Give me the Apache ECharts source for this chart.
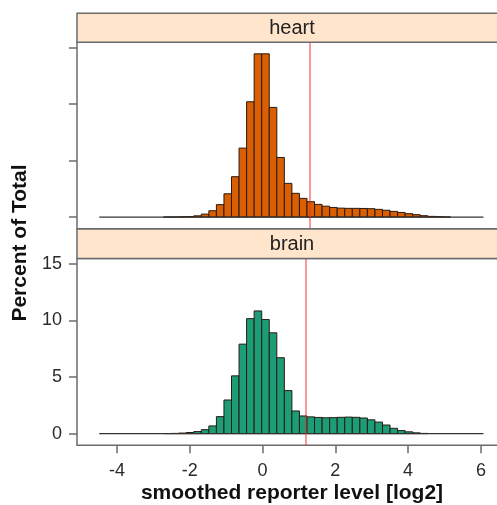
<!DOCTYPE html>
<html>
<head>
<meta charset="utf-8">
<script src="https://cdn.jsdelivr.net/npm/echarts@6/dist/echarts.min.js"></script>
<style>html,body{margin:0;padding:0;background:#fff}#c{width:497px;height:505px}</style>
</head>
<body>
<div id="c"></div>
<script>
// ---- data ----
var panels = ['heart', 'brain'];
var binStart = -2.718;      // left edge of first listed bin
var binWidth = 0.2074;
var heartPct = [0.005,0.01,0.025,0.05,0.11,0.26,0.56,1.1,2.06,3.57,6.1,10.2,14.44,
  14.44,9.7,5.27,2.98,2.1,1.65,1.36,1.12,0.96,0.85,0.79,0.77,0.77,0.76,0.74,0.68,0.6,0.5,0.41,0.3,0.21,0.12,0.06,0.03,0.01];
var brainPct = [0.01,0.02,0.05,0.1,0.18,0.35,0.68,1.5,2.97,5.1,7.9,10.15,10.83,
  10.07,8.9,6.7,3.8,2.0,1.56,1.48,1.43,1.4,1.41,1.44,1.46,1.44,1.38,1.22,1.02,0.76,0.47,0.27,0.16,0.07,0.02,0,0,0];
var dataRange = [-4.485, 6.07];
var thresholds = [1.286, 1.19];
var xTicks = [-4, -2, 0, 2, 4, 6];
var yTicks = [0, 5, 10, 15];
var xLim = [-5.096, 6.717];
var yLim = [-1.03, 15.46];
var colors = ['#d95f02', '#1b9e77'];

function bins(vals) {
  return vals.map(function (v, i) {
    var x0 = binStart + i * binWidth;
    return [x0, x0 + binWidth, v];
  });
}

var FONT = 'Liberation Sans, Arial, Helvetica, sans-serif';
var chart = echarts.init(document.getElementById('c'), null, {renderer: 'canvas'});

var grids = [
  {left: 77, top: 42.3, width: 430, height: 186.4, outerBoundsMode: 'none', containLabel: false,
   show: true, borderColor: '#6b6b6b', borderWidth: 1.5, backgroundColor: '#fff'},
  {left: 77, top: 258.5, width: 430, height: 186.8, outerBoundsMode: 'none', containLabel: false,
   show: true, borderColor: '#6b6b6b', borderWidth: 1.5, backgroundColor: '#fff'}
];

var xAxes = [0, 1].map(function (i) {
  return {
    type: 'value', gridIndex: i, min: xLim[0], max: xLim[1], position: 'bottom',
    splitLine: {show: false}, axisLine: {show: false, onZero: false},
    axisTick: {show: i === 1, customValues: xTicks, length: 8, lineStyle: {color: '#6b6b6b', width: 1.5}},
    axisLabel: {show: i === 1, customValues: xTicks, margin: 17, fontSize: 18, color: '#2a2a2a', fontFamily: FONT},
    name: i === 1 ? 'smoothed reporter level [log2]' : '',
    nameLocation: 'middle', nameGap: 37,
    nameTextStyle: {fontSize: 21, fontWeight: 'bold', color: '#111', fontFamily: FONT}
  };
});

var yAxes = [0, 1].map(function (i) {
  return {
    type: 'value', gridIndex: i, min: yLim[0], max: yLim[1], position: 'left',
    splitLine: {show: false}, axisLine: {show: false, onZero: false},
    axisTick: {show: true, customValues: yTicks, length: 8, lineStyle: {color: '#6b6b6b', width: 1.5}},
    axisLabel: {show: i === 1, customValues: yTicks, margin: 15, fontSize: 18, color: '#2a2a2a', fontFamily: FONT}
  };
});

var series = [];
[heartPct, brainPct].forEach(function (vals, i) {
  var color = colors[i];
  series.push({
    type: 'custom', xAxisIndex: i, yAxisIndex: i,
    data: bins(vals).filter(function (d) { return d[2] > 0; }),
    renderItem: function (params, api) {
      var p0 = api.coord([api.value(0), api.value(2)]);
      var p1 = api.coord([api.value(1), 0]);
      return {
        type: 'rect',
        shape: {x: p0[0], y: p0[1], width: p1[0] - p0[0], height: p1[1] - p0[1]},
        style: {fill: color, stroke: '#2a1a10', lineWidth: 1}
      };
    },
    z: 2
  });
  series.push({
    type: 'line', xAxisIndex: i, yAxisIndex: i,
    data: [[dataRange[0], 0], [dataRange[1], 0]],
    symbol: 'none', lineStyle: {color: '#333', width: 1.2}, z: 3,
    markLine: {
      silent: true, symbol: 'none', label: {show: false},
      lineStyle: {color: 'rgba(235,45,45,0.6)', width: 1.6, type: 'solid'},
      data: [{xAxis: thresholds[i]}]
    }
  });
});

var graphics = [];
var stripTops = [13.3, 229];
var stripH = [29, 29.4];
panels.forEach(function (name, i) {
  graphics.push({
    type: 'rect', shape: {x: 77, y: stripTops[i], width: 430, height: stripH[i]},
    style: {fill: '#ffe5cc', stroke: '#6b6b6b', lineWidth: 1.5}, z: 10
  });
  graphics.push({
    type: 'text', x: 292, y: stripTops[i] + stripH[i] / 2 + 0.5,
    style: {text: name, fontSize: 20, fontFamily: FONT, fill: '#222', align: 'center', verticalAlign: 'middle'}, z: 11
  });
});
graphics.push({
  type: 'text', x: 20, y: 243, rotation: Math.PI / 2,
  style: {text: 'Percent of Total', fontSize: 21, fontWeight: 'bold', fontFamily: FONT, fill: '#111', align: 'center', verticalAlign: 'middle'}, z: 11
});

chart.setOption({
  animation: false,
  grid: grids,
  xAxis: xAxes,
  yAxis: yAxes,
  series: series,
  graphic: graphics
});
</script>
</body>
</html>
